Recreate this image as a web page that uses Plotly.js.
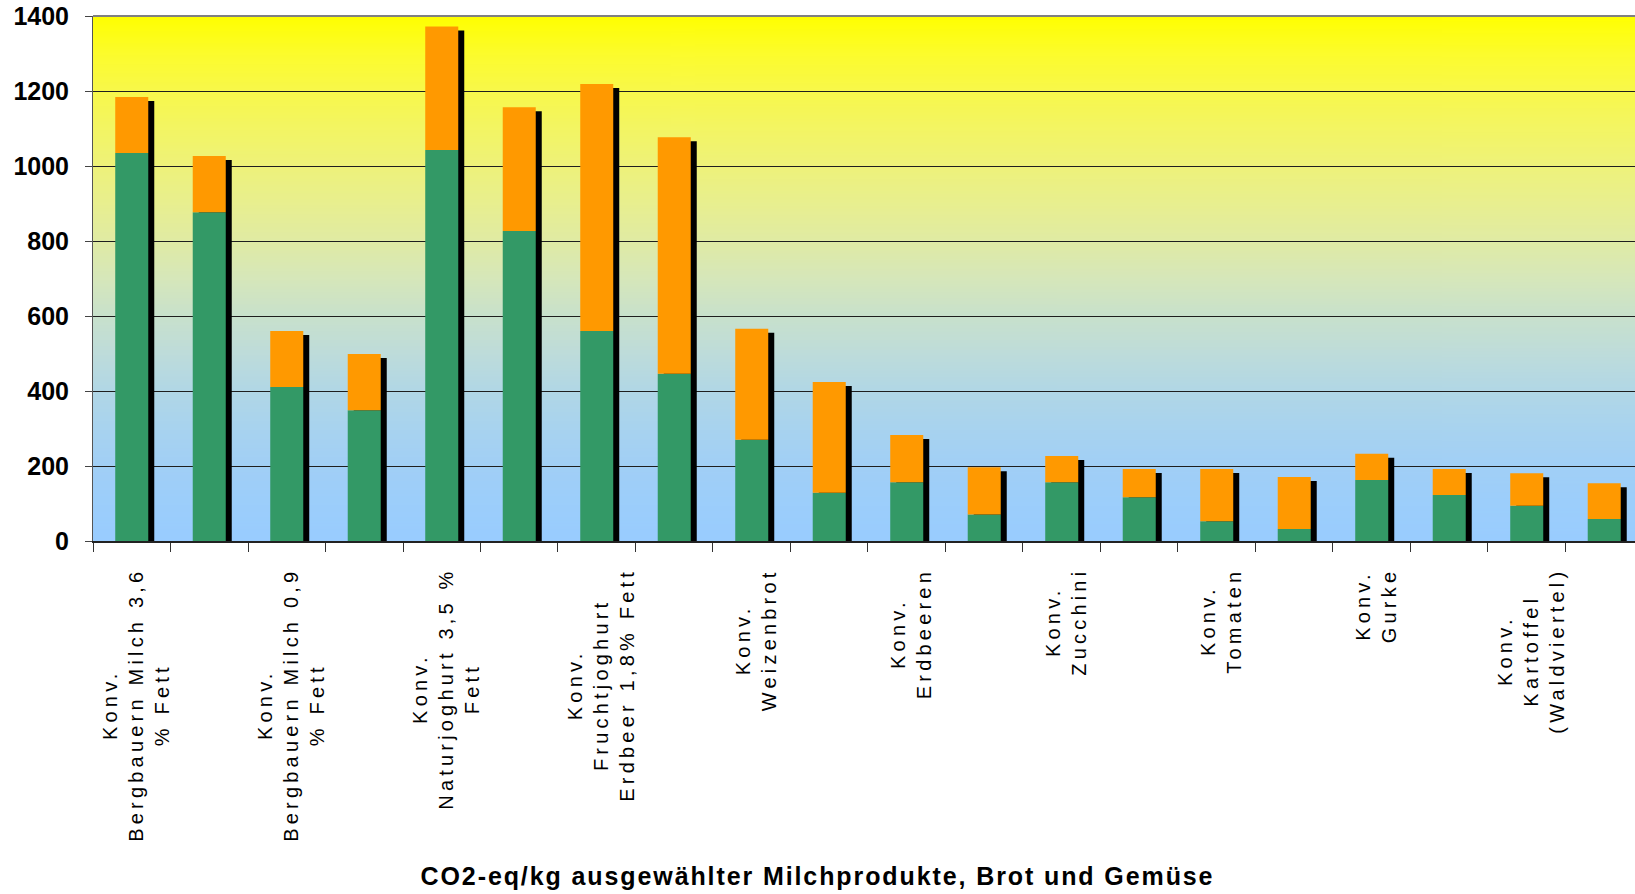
<!DOCTYPE html>
<html>
<head>
<meta charset="utf-8">
<script src="https://cdn.plot.ly/plotly-3.0.1.min.js"></script>
<style>
  html, body { margin: 0; padding: 0; background: #ffffff; }
  #chart { width: 1635px; height: 894px; }
  .annotation-text { letter-spacing: 4.2px; }
  .gtitle { letter-spacing: 1.9px; }
</style>
</head>
<body>
<div id="chart"></div>
<script>
// ---- data ----
const labels = [
  "Konv.<br>Bergbauern Milch 3,6<br>% Fett", "",
  "Konv.<br>Bergbauern Milch 0,9<br>% Fett", "",
  "Konv.<br>Naturjoghurt 3,5 %<br>Fett", "",
  "Konv.<br>Fruchtjoghurt<br>Erdbeer 1,8% Fett", "",
  "Konv.<br>Weizenbrot", "",
  "Konv.<br>Erdbeeren", "",
  "Konv.<br>Zucchini", "",
  "Konv.<br>Tomaten", "",
  "Konv.<br>Gurke", "",
  "Konv.<br>Kartoffel<br>(Waldviertel)", ""
];
const greenPart  = [1035, 877, 411, 349, 1043, 827, 560, 446, 270, 129, 157, 71, 157, 117, 53, 32, 163, 123, 94, 59];
const orangePart = [149, 150, 149, 150, 329, 330, 659, 631, 296, 295, 126, 126, 70, 75, 139, 139, 70, 69, 87, 95];
const yTicks = [0, 200, 400, 600, 800, 1000, 1200, 1400];
const titleText = "CO2-eq/kg ausgewählter Milchprodukte, Brot und Gemüse";

// ---- style ----
const GREEN = "#339966", ORANGE = "#FF9900", SHADOW = "#000000";
const BAR_W = 0.426;          // bar width in category units
const SHADOW_DX = 0.0774;     // shadow shift right (category units)
const SHADOW_DY = 10.7;       // shadow drop (value units)
const gradStops = [
  [0, "#99CCFF"], [100, "#9CCEFB"], [200, "#A1CFF6"], [300, "#A8D3EF"],
  [400, "#B1D7E6"], [500, "#BEDCDA"], [600, "#C8E1CC"], [700, "#D6E7BA"],
  [800, "#E0EBA4"], [900, "#E8EF8F"], [1000, "#EEF27A"], [1100, "#F3F563"],
  [1200, "#F8F84B"], [1300, "#FCFC2C"], [1400, "#FFFF00"]
];

const xs = labels.map((_, i) => i);
const totals = greenPart.map((g, i) => g + orangePart[i]);

function makeGradient() {
  const c = document.createElement("canvas");
  c.width = 4; c.height = 700;
  const ctx = c.getContext("2d");
  const g = ctx.createLinearGradient(0, c.height, 0, 0);
  gradStops.forEach(([v, col]) => g.addColorStop(v / 1400, col));
  ctx.fillStyle = g;
  ctx.fillRect(0, 0, c.width, c.height);
  return c.toDataURL("image/png");
}

const traces = [
  {
    type: "bar", x: xs, y: totals.map(v => v - SHADOW_DY), base: 0,
    width: BAR_W, offset: -BAR_W / 2 + SHADOW_DX,
    marker: { color: SHADOW, line: { width: 0 } }, hoverinfo: "skip", showlegend: false
  },
  {
    type: "bar", x: xs, y: greenPart, width: BAR_W,
    marker: { color: GREEN, line: { width: 0 } }, showlegend: false
  },
  {
    type: "bar", x: xs, y: orangePart, base: greenPart, width: BAR_W,
    marker: { color: ORANGE, line: { width: 0 } }, showlegend: false
  }
];

const labelFont = { family: "Liberation Sans, Arial, sans-serif", size: 20, color: "#000" };
const annotations = labels.map((t, i) => ({
  text: t, x: i, xref: "x", y: 0, yref: "paper",
  xanchor: "center", yanchor: "top", textangle: -90, align: "center",
  showarrow: false, yshift: -25, xshift: 4, font: labelFont
})).filter(a => a.text !== "");

const layout = {
  width: 1635, height: 894,
  margin: { l: 93, r: 0, t: 16, b: 353 },
  paper_bgcolor: "#ffffff",
  plot_bgcolor: "rgba(0,0,0,0)",
  barmode: "overlay",
  title: {
    text: titleText,
    font: { family: "Liberation Sans, Arial, sans-serif", size: 25, weight: "bold", color: "#000" },
    x: 0.5, xref: "container", xanchor: "center",
    y: 18 / 894, yref: "container", yanchor: "middle"
  },
  xaxis: {
    type: "linear", range: [-0.5, 19.397], fixedrange: true,
    tickmode: "linear", tick0: -0.5, dtick: 1,
    ticks: "outside", ticklen: 9, tickcolor: "#333", tickwidth: 1,
    showticklabels: false, showgrid: false, zeroline: false,
    showline: true, linecolor: "#222", linewidth: 1.5
  },
  yaxis: {
    range: [0, 1400], fixedrange: true,
    tickmode: "array", tickvals: yTicks, ticktext: yTicks.map(String),
    ticks: "outside", ticklen: 7, tickcolor: "#444", tickwidth: 1,
    ticklabelstandoff: 11,
    tickfont: { family: "Liberation Sans, Arial, sans-serif", size: 25, weight: "bold", color: "#000" },
    showgrid: true, gridcolor: "#1e1e1e", gridwidth: 1,
    zeroline: false, showline: true, linecolor: "#555", linewidth: 1
  },
  images: [{
    source: makeGradient(), xref: "paper", yref: "paper",
    x: 0, y: 1, sizex: 1, sizey: 1, xanchor: "left", yanchor: "top",
    sizing: "stretch", layer: "below"
  }],
  shapes: [{
    type: "line", xref: "paper", yref: "paper", x0: 0, x1: 1, y0: 1, y1: 1,
    line: { color: "#808080", width: 2 }, layer: "above"
  }],
  annotations: annotations
};

Plotly.newPlot("chart", traces, layout, { displayModeBar: false, staticPlot: true });
</script>
</body>
</html>
